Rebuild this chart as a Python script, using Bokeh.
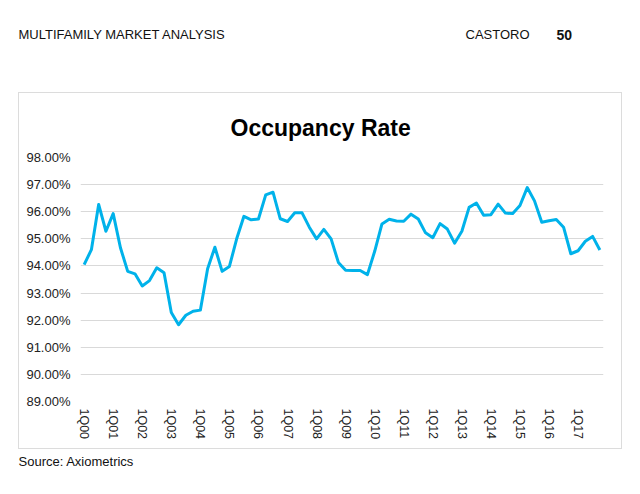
from bokeh.plotting import figure
from bokeh.models import Range1d, FixedTicker, PrintfTickFormatter, Label, Spacer
from bokeh.layouts import column, row
from bokeh.embed import file_html
from bokeh.resources import INLINE

# ---- data ----
occupancy = [
    94.05, 94.60, 96.27, 95.28, 95.93, 94.67, 93.80, 93.71,
    93.26, 93.46, 93.93, 93.75, 92.28, 91.83, 92.18, 92.33,
    92.37, 93.90, 94.69, 93.80, 93.98, 95.00, 95.83, 95.70,
    95.73, 96.62, 96.72, 95.74, 95.64, 95.96, 95.96, 95.43,
    95.00, 95.35, 95.00, 94.13, 93.84, 93.83, 93.83, 93.68,
    94.54, 95.55, 95.72, 95.66, 95.65, 95.91, 95.73, 95.22,
    95.04, 95.56, 95.36, 94.84, 95.28, 96.16, 96.32, 95.87,
    95.89, 96.28, 95.95, 95.93, 96.23, 96.89, 96.40, 95.61,
    95.67, 95.71, 95.43, 94.45, 94.56, 94.91, 95.09, 94.59,
]
tick_labels = ["1Q00", "1Q01", "1Q02", "1Q03", "1Q04", "1Q05", "1Q06", "1Q07", "1Q08",
               "1Q09", "1Q10", "1Q11", "1Q12", "1Q13", "1Q14", "1Q15", "1Q16", "1Q17"]
y_ticks = [89, 90, 91, 92, 93, 94, 95, 96, 97, 98]

x_idx = list(range(len(occupancy)))
tick_pos = [4 * i for i in range(len(tick_labels))]

FONT = "Liberation Sans"
TOTAL_W = 624


def text_fig(height):
    f = figure(width=TOTAL_W, height=height, output_backend="svg", toolbar_location=None,
               x_range=Range1d(0, TOTAL_W), y_range=Range1d(height, 0),
               x_axis_type=None, y_axis_type=None, min_border=0, title=None)
    f.grid.visible = False
    f.outline_line_color = None
    f.background_fill_color = "white"
    f.border_fill_color = "white"
    return f


def lab(f, x, y, t, size, bold=False, align="left"):
    f.add_layout(Label(x=x, y=y, text=t, text_font=FONT, text_font_size=size,
                       text_font_style="bold" if bold else "normal",
                       text_align=align, text_baseline="middle", text_color="#111111"))


# header
head = text_fig(92)
lab(head, 18, 34, "MULTIFAMILY MARKET ANALYSIS", "13px")
lab(head, 465, 34, "CASTORO", "13px")
lab(head, 556, 34, "50", "14px", bold=True)

# main chart (box from page x 18..622, y 92..449)
MW, MH = 604, 357
p = figure(width=MW, height=MH, output_backend="svg", toolbar_location=None,
           x_range=Range1d(-0.5, len(occupancy) - 0.5), y_range=Range1d(89, 98),
           min_border_left=61, min_border_right=20, min_border_top=64, min_border_bottom=49,
           title="Occupancy Rate")
p.styles = {"border": "1px solid #dcdcdc", "box-sizing": "border-box"}
p.outline_line_color = None
p.background_fill_color = "white"
p.border_fill_color = "white"
p.title.align = "left"
p.title.offset = 150
p.title.text_font = FONT
p.title.text_font_size = "23px"
p.title.text_font_style = "bold"
p.title.text_color = "#000000"
p.title.standoff = 34

p.line(x_idx, occupancy, line_color="#00B2EA", line_width=3, line_join="round")

p.xgrid.visible = False
p.ygrid.grid_line_color = "#d9d9d9"
p.ygrid.grid_line_width = 1
p.yaxis.ticker = FixedTicker(ticks=y_ticks)
p.yaxis.formatter = PrintfTickFormatter(format="%.2f%%")
p.xaxis.ticker = FixedTicker(ticks=tick_pos)
p.xaxis.major_label_overrides = {pos: lab_ for pos, lab_ in zip(tick_pos, tick_labels)}
p.xaxis.major_label_orientation = "vertical"
for ax in (p.xaxis, p.yaxis):
    ax.axis_line_color = None
    ax.major_tick_line_color = None
    ax.minor_tick_line_color = None
    ax.major_tick_in = 0
    ax.major_tick_out = 0
    ax.major_label_text_font = FONT
    ax.major_label_text_color = "#222222"
p.yaxis.major_label_text_font_size = "13px"
p.yaxis.major_label_standoff = 10
p.xaxis.major_label_text_font_size = "12.5px"
p.xaxis.major_label_standoff = 7

# footer
foot = text_fig(29)
lab(foot, 18, 12, "Source: Axiometrics", "13px")

layout = column(head, row(Spacer(width=18, height=MH), p), foot)
open("out.html", "w").write(file_html(layout, INLINE))
